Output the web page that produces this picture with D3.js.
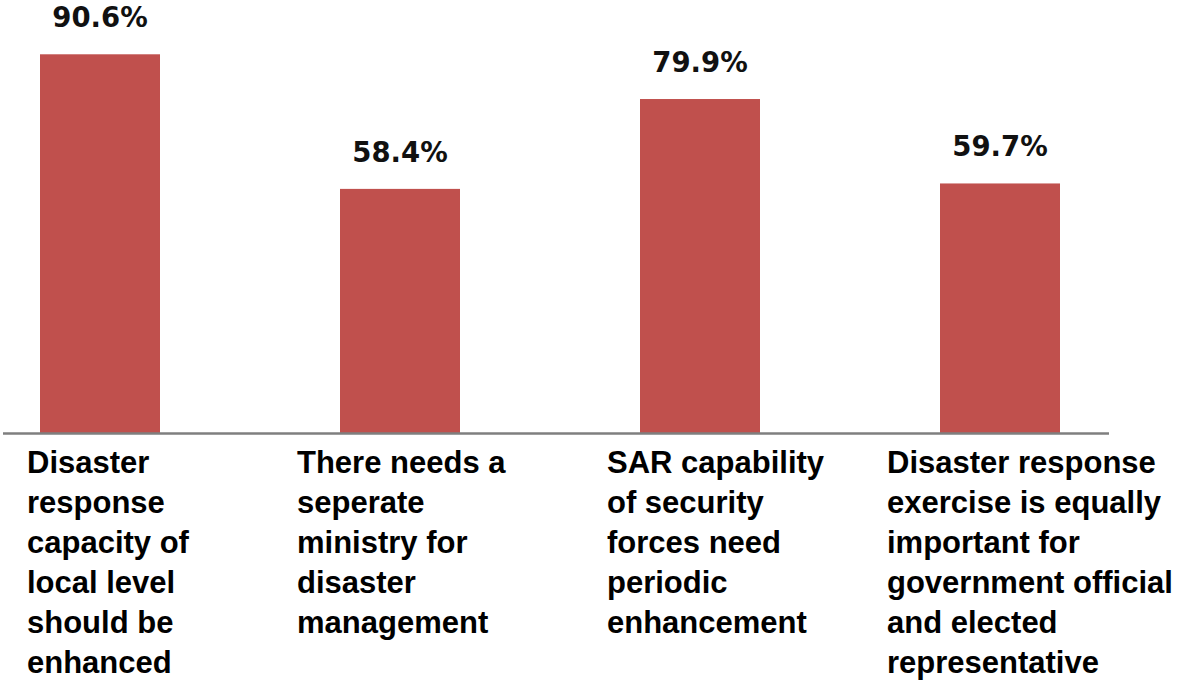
<!DOCTYPE html>
<html>
<head>
<meta charset="utf-8">
<script src="https://cdn.jsdelivr.net/npm/d3@7/dist/d3.min.js"></script>
<style>
  html, body { margin: 0; padding: 0; background: #ffffff; }
  svg { display: block; }
</style>
</head>
<body>
<svg id="chart" width="1181" height="682"></svg>
<script>
// ---- data ----
const categories = ["c1", "c2", "c3", "c4"];
const categoryLabels = [
  ["Disaster", "response", "capacity of", "local level", "should be", "enhanced"],
  ["There needs a", "seperate", "ministry for", "disaster", "management"],
  ["SAR capability", "of security", "forces need", "periodic", "enhancement"],
  ["Disaster response", "exercise is equally", "important for", "government official", "and elected", "representative"]
];
const values = [90.6, 58.4, 79.9, 59.7];

// ---- layout (not data) ----
const W = 1181, H = 682;
const baseY = 433;
const labelDx = [-13, -43, -33, -53];

const svg = d3.select("#chart");

const x = d3.scaleBand()
  .domain(categories)
  .range([-50, 1150])
  .paddingInner(0.6)
  .paddingOuter(0.3);

const y = d3.scaleLinear()
  .domain([0, 100])
  .range([baseY, baseY - 418]);

// bars
svg.append("g").selectAll("rect")
  .data(values)
  .join("rect")
  .attr("x", (d, i) => x(categories[i]))
  .attr("y", d => y(d))
  .attr("width", x.bandwidth())
  .attr("height", d => y(0) - y(d))
  .attr("fill", "#c0504d");

// axis line
const axisG = svg.append("g")
  .attr("transform", `translate(0,${baseY})`)
  .call(d3.axisBottom(x).tickSize(0).tickFormat(""));
axisG.select(".domain")
  .attr("d", "M3,0.5H1109")
  .attr("stroke", "#7f7f7f")
  .attr("stroke-width", 2.5);

// value labels
svg.append("g").selectAll("text")
  .data(values)
  .join("text")
  .attr("x", (d, i) => x(categories[i]) + x.bandwidth() / 2)
  .attr("y", d => y(d) - 27)
  .attr("text-anchor", "middle")
  .attr("font-family", "DejaVu Sans, Verdana, sans-serif")
  .attr("font-weight", "bold")
  .attr("font-size", 27.5)
  .attr("fill", "#111111")
  .text(d => d.toFixed(1) + "%");

// category labels
const lab = svg.append("g").selectAll("text")
  .data(categoryLabels)
  .join("text")
  .attr("x", (d, i) => x(categories[i]) + labelDx[i])
  .attr("y", 473)
  .attr("font-family", "Liberation Sans, Arial, sans-serif")
  .attr("font-weight", "bold")
  .attr("font-size", 31)
  .attr("fill", "#000000");

lab.each(function(lines, i) {
  const t = d3.select(this);
  const x0 = x(categories[i]) + labelDx[i];
  lines.forEach((ln, j) => {
    t.append("tspan")
      .attr("x", x0)
      .attr("dy", j === 0 ? 0 : 40)
      .text(ln);
  });
});
</script>
</body>
</html>
